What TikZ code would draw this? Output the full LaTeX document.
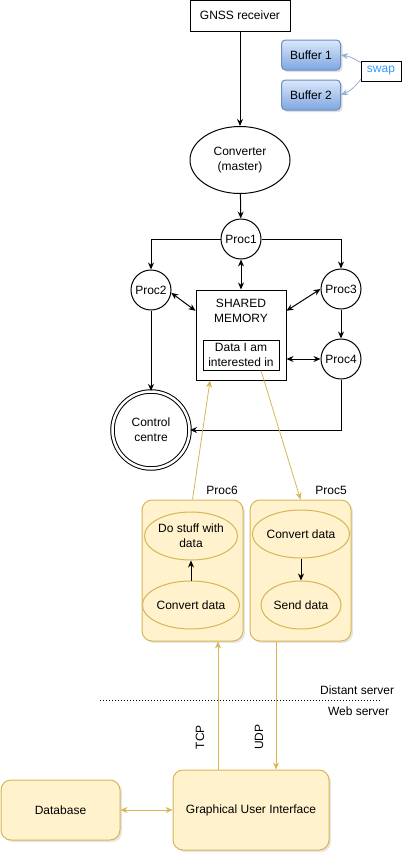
\documentclass[tikz,border=0pt]{standalone}
\usepackage{fontspec}
\setmainfont{Liberation Sans}
\usepackage{tikz}
\usetikzlibrary{arrows.meta,calc,shapes.geometric,shadows}

\definecolor{goldline}{HTML}{D6B656}
\definecolor{goldfill}{HTML}{FFF2CC}
\definecolor{buftop}{HTML}{DAE8FC}
\definecolor{bufbot}{HTML}{7EA6E0}
\definecolor{bufline}{HTML}{6C8EBF}
\definecolor{swaptext}{HTML}{3399FF}

\begin{document}
\begin{tikzpicture}[x=1pt, y=-1pt, line width=1pt,
    font=\fontsize{12}{15}\selectfont,
    >={Stealth[length=7pt,width=6pt]},
    box/.style={draw, rectangle, align=center, inner sep=2pt},
    proc/.style={draw, circle, minimum size=40pt, inner sep=0pt},
    buffer/.style={draw=bufline, rounded corners=4pt, top color=buftop, bottom color=bufbot,
        minimum width=59pt, minimum height=30pt,
        drop shadow={shadow xshift=2pt, shadow yshift=-2pt, opacity=0.25}},
    goldbox/.style={draw=goldline, fill=goldfill, rounded corners=10pt,
        drop shadow={shadow xshift=2pt, shadow yshift=-2pt, opacity=0.2}},
    task/.style={draw=goldline, ellipse, minimum width=80pt, minimum height=48pt,
        inner sep=0pt, align=center},
    goldarrow/.style={draw=goldline, line width=0.8pt}]
    \useasboundingbox (0,0) rectangle (408,857);

    % Receiver and buffers
    \node[box, minimum width=100pt, minimum height=31pt] (gnss) at (240,15.5) {GNSS receiver};
    \node[buffer] (buf1) at (311,55) {Buffer 1};
    \node[buffer] (buf2) at (311,95) {Buffer 2};
    \node[draw, line width=0.6pt, text=swaptext, minimum width=40pt, minimum height=20pt, inner sep=1pt] (swap) at (381,71) {swap};
    \draw[->, bufline!70, line width=0.8pt] ($(swap.north west)+(0,2)$) to[bend right=12] (buf1.east);
    \draw[->, bufline!70, line width=0.8pt] ($(swap.south west)+(0,-2)$) to[bend left=15] (buf2.east);

    % Master and processes
    \node[draw, ellipse, minimum width=100pt, minimum height=67pt, inner sep=0pt, align=center] (conv) at (240,160) {Converter\\(master)};
    \node[proc] (p1) at (241,239) {Proc1};
    \node[proc] (p2) at (151,290) {Proc2};
    \node[proc] (p3) at (341,289) {Proc3};
    \node[proc] (p4) at (341,359) {Proc4};

    % Shared memory
    \node[draw, minimum width=90pt, minimum height=90pt] (mem) at (241,335) {};
    \node[align=center] (memlbl) at (241,311) {SHARED\\MEMORY};
    \node[box, minimum width=76pt, minimum height=30pt, inner sep=1pt] (data) at (241,355) {Data I am\\interested in};

    % Control centre
    \node[draw, circle, double, double distance=2.5pt, minimum size=77pt, inner sep=0pt, align=center] (cc) at (151,430) {Control\\centre};

    % Black connectors
    \draw[->] (gnss) -- (conv);
    \draw[->] (conv) -- (p1);
    \draw[->] (p1.west) -| (p2.north);
    \draw[->] (p1.east) -| (p3.north);
    \draw[<->] (p1) -- (mem);
    \draw[<->] (p2.-8) -- (mem.152);
    \draw[<->] (p3.west) -- (mem.28);
    \draw[->] (p3) -- (p4);
    \draw[<->] (p4.west -| mem.east) -- (p4.west);
    \draw[->] (p2) -- (cc);
    \draw[->] (p4.south) |- (cc.east);

    % Remote processes
    \node[goldbox, minimum width=101pt, minimum height=141pt] (p6box) at (192.5,570.5) {};
    \node[goldbox, minimum width=101pt, minimum height=141pt] (p5box) at (300.5,570.5) {};
    \node (p6lbl) at (222,490) {Proc6};
    \node (p5lbl) at (331,490) {Proc5};
    \node[task] (dostuff) at (191,536) {Do stuff with\\data};
    \node[task] (conv6) at (191,605) {Convert data};
    \node[task] (conv5) at (301,534) {Convert data};
    \node[task] (send5) at (301,605) {Send data};
    \draw[->] (conv6) -- (dostuff);
    \draw[->] (conv5) -- (send5);

    % Links to the shared memory
    \draw[goldarrow, ->] (p6box.north) -- ($(mem.south west)!0.16!(mem.south east)$);
    \draw[goldarrow, ->] ($(data.south)+(20,0)$) -- (p5box.north);

    % Server boundary
    \draw[dotted] (100,700) -- (380,700);
    \node[anchor=east] (distant) at (398,690) {Distant server};
    \node[anchor=east] (web) at (393,711) {Web server};

    % Web server side
    \node[goldbox, minimum width=119pt, minimum height=60pt] (db) at (60.5,810) {Database};
    \node[goldbox, minimum width=156pt, minimum height=80pt] (gui) at (251,810) {Graphical User Interface};
    \draw[goldarrow, <->] (db) -- (gui);
    \coordinate (tcp) at ($(gui.north west)!0.29!(gui.north east)$);
    \coordinate (udp) at ($(p5box.south west)!0.26!(p5box.south east)$);
    \draw[goldarrow, ->] (tcp) -- (tcp |- p6box.south);
    \draw[goldarrow, ->] (udp) -- (udp |- gui.north);
    \node[rotate=90] (tcplbl) at (200,737) {TCP};
    \node[rotate=90] (udplbl) at (259,737) {UDP};
\end{tikzpicture}
\end{document}
